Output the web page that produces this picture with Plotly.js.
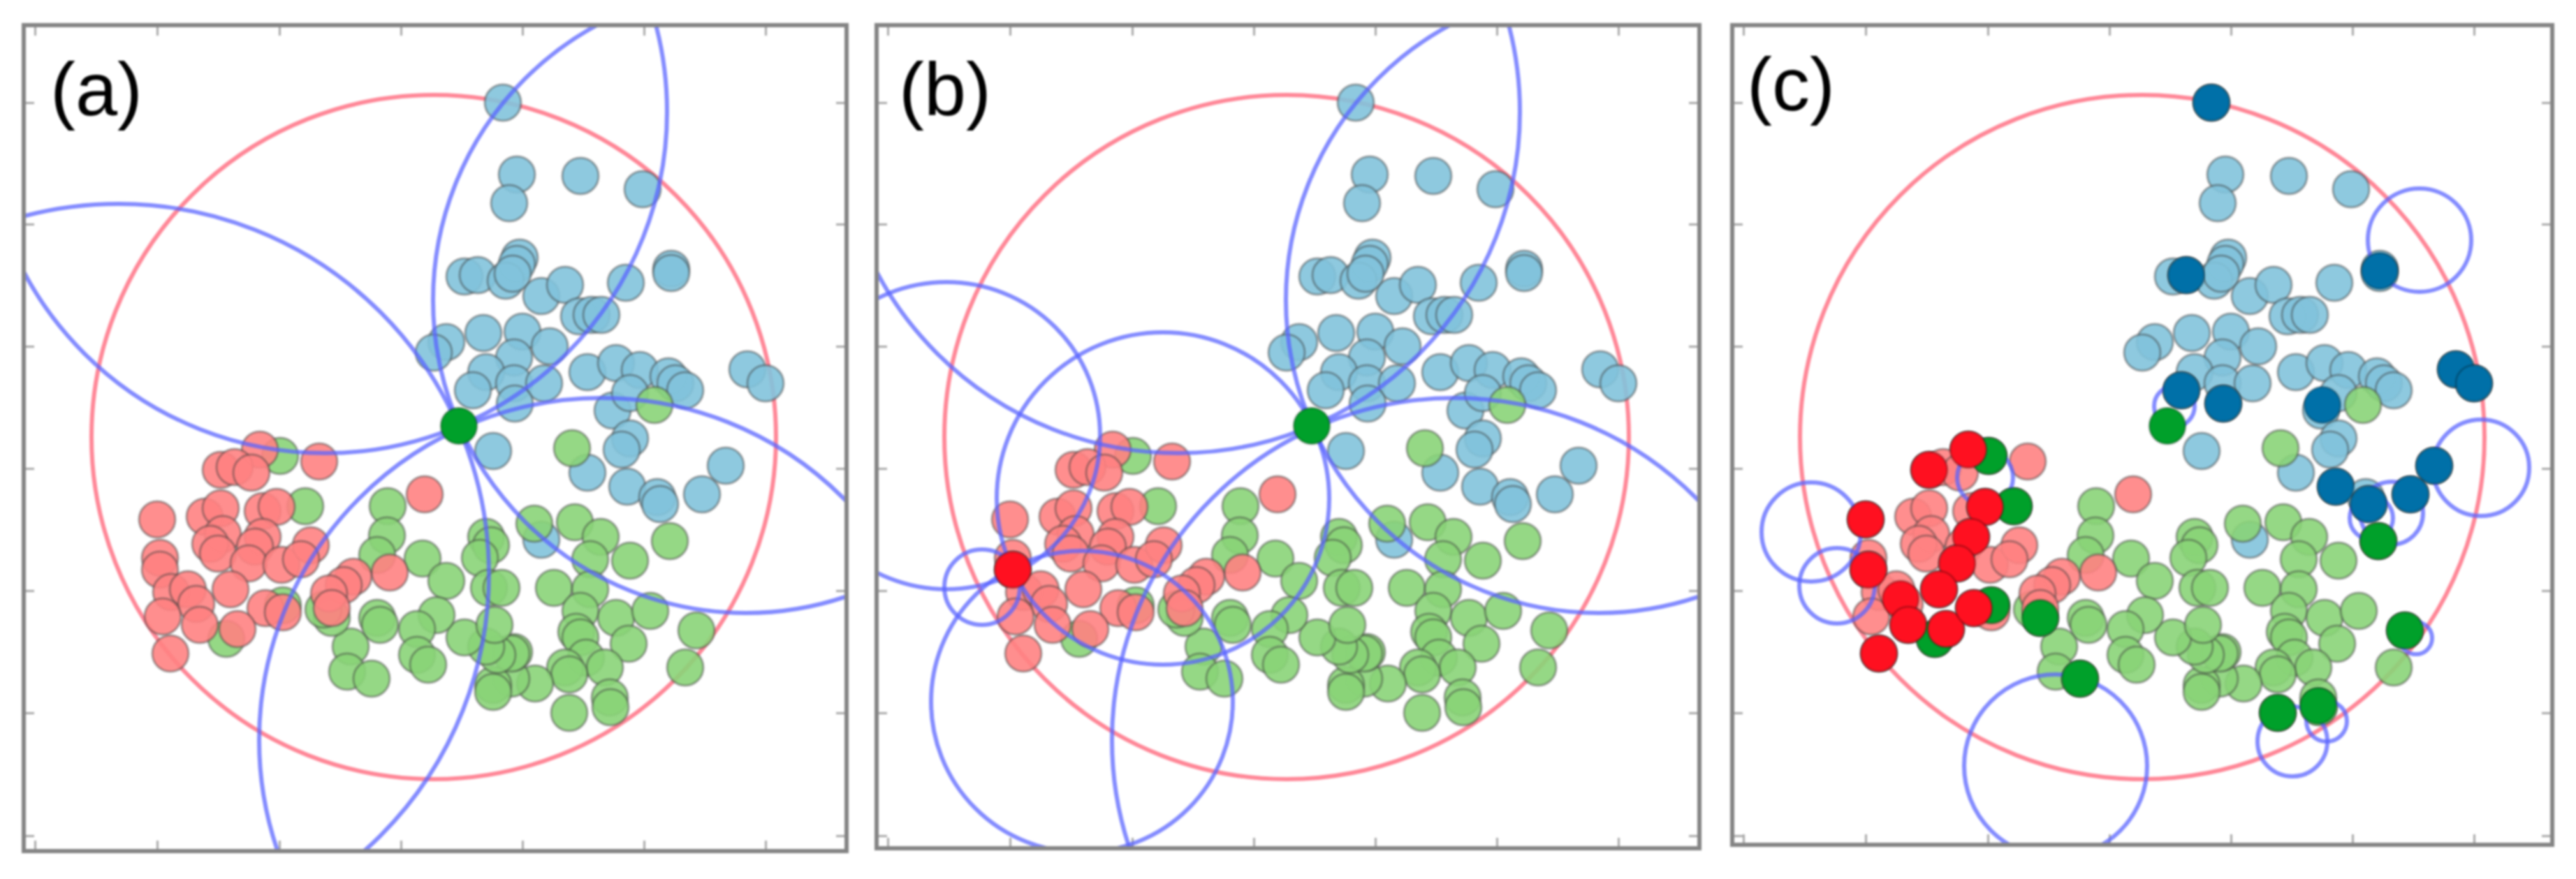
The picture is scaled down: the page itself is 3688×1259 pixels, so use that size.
<!DOCTYPE html>
<html>
<head>
<meta charset="utf-8">
<script src="https://cdn.plot.ly/plotly-3.0.1.min.js"></script>
<style>
  body { margin: 0; background: white; }
  #chart, #dots { position: absolute; left: 0; top: 0; width: 3688px; height: 1259px; filter: blur(1.8px); }
  #dots { pointer-events: none; }
</style>
</head>
<body>
<div id="chart"></div>
<div id="dots"></div>
<script>
// Points
var blueX = [720,740,831,920,729,961,961,744,740,665,684,724,734,775,809,896,829,847,861,639,621,692,748,787,736,696,677,736,779,737,841,882,916,957,967,981,877,902,1070,1096,902,890,706,841,898,941,945,1005,1039,775];
var blueY = [147,250,252,271,291,385,391,369,378,396,394,402,392,424,408,405,453,451,451,490,505,477,475,496,512,533,559,549,549,578,533,520,530,539,549,559,588,563,529,549,628,644,646,677,697,712,722,708,667,773];

var greenX = [937,819,401,437,555,554,540,605,639,696,703,687,700,718,765,823,860,845,902,959,793,845,831,882,931,997,981,825,831,900,839,809,866,815,873,874,815,766,732,706,706,736,732,712,696,665,708,625,597,597,613,540,544,502,497,532,475,463,324,405];
var greenY = [580,642,653,725,725,767,795,800,832,769,781,799,842,842,750,748,769,801,803,775,842,844,875,885,875,903,956,905,913,922,942,956,956,966,999,1013,1021,979,972,981,991,934,936,938,926,913,895,881,901,938,952,885,895,926,962,972,885,873,915,867];

var redX = [372,457,316,336,360,608,225,293,316,376,396,319,301,312,376,365,356,403,445,431,229,229,245,269,281,330,380,405,233,286,340,244,558,506,492,471,475];
var redY = [644,661,673,669,677,708,744,740,728,732,726,765,779,793,769,783,807,809,781,801,799,816,848,844,865,844,871,877,883,895,901,936,820,826,838,850,871];

// Highlighted points of each panel
var queryGreenX = [657];
var queryGreenY = [610];
var queryRedX = [229];
var queryRedY = [816];

var hullBlueX = [720,684,961,677,737,879,1070,1096,1039,898,945,1005];
var hullBlueY = [147,394,388,559,578,580,529,549,667,697,722,708];
var hullGreenX = [657,401,437,475,532,959,997,815,873,324,405];
var hullGreenY = [610,653,725,885,972,775,903,1021,1011,915,867];
var hullRedX = [372,316,225,396,376,229,356,330,275,286,340,380,244];
var hullRedY = [644,673,744,726,769,816,807,844,858,895,901,871,936];

// Enclosing circle and empty circles [x, y, r]
var outerCircle = [621, 626, 490];
var circlesA = [[1068,430,448],[466,160,489],[861,1060,490],[170,822,530]];
var circlesB = [[1068,430,448],[466,160,489],[861,1060,490],[444,714,238],[134,624,220],[185,841,54],[328,1005,216]];
var circlesC = [[1018,344,74],[1106,670,69],[147,762,71],[184,839,54],[497,1097,131],[836,1062,50],[885,1033,29],[1013,914,23],[949,742,31],[978,735,45],[667,582,29],[396,684,40]];

var panelLabels = ["(a)", "(b)", "(c)"];
var labelX = [138, 132, 118];
var labelY = [127, 127, 120];

var xTicks = [50,225,400,574,748,922,1096];
var yTicks = [147,321,496,671,846,1021,1197];

// Frames in page pixels
var W = 3688, H = 1259;
var frameLeft = [37, 1258, 2483];
var frameRight = [1209, 2430, 3651];
var frameTop = [39, 39, 39];
var frameBottom = [1216, 1212, 1207];

var pointLine = { color: "rgba(60,60,60,0.45)", width: 3 };
var darkLine = { color: "rgba(0,0,0,0.25)", width: 3 };

function points(x, y, color, axis, line) {
  return {
    x: x, y: y,
    xaxis: "x" + axis, yaxis: "y" + axis,
    type: "scatter", mode: "markers", hoverinfo: "skip",
    marker: { size: 52, color: color, line: line }
  };
}

function frameLayout(visible) {
  var layout = {
    width: W, height: H,
    margin: { l: 0, r: 0, t: 0, b: 0 },
    showlegend: false,
    paper_bgcolor: "rgba(0,0,0,0)",
    plot_bgcolor: "rgba(0,0,0,0)"
  };
  for (var i = 0; i < 3; i++) {
    var n = i == 0 ? "" : String(i + 1);
    var common = {
      visible: visible, showgrid: false, zeroline: false, showticklabels: false,
      showline: true, linecolor: "#848484", linewidth: 6, mirror: "ticks",
      ticks: "inside", ticklen: 12, tickwidth: 3, tickcolor: "#a8a8a8", tickmode: "array"
    };
    layout["xaxis" + n] = Object.assign({}, common, {
      domain: [frameLeft[i] / W, frameRight[i] / W],
      range: [37, 37 + frameRight[i] - frameLeft[i]],
      tickvals: xTicks,
      anchor: "y" + n
    });
    layout["yaxis" + n] = Object.assign({}, common, {
      domain: [1 - frameBottom[i] / H, 1 - frameTop[i] / H],
      range: [39 + frameBottom[i] - frameTop[i], 39],
      tickvals: yTicks,
      anchor: "x" + n
    });
  }
  return layout;
}

function circleShape(c, axis, color, layer) {
  return {
    type: "circle", xref: "x" + axis, yref: "y" + axis, layer: layer,
    x0: c[0] - c[2], x1: c[0] + c[2], y0: c[1] - c[2], y1: c[1] + c[2],
    line: { color: color, width: 6 }
  };
}

// Base plot: light points, circles over them
var data = [];
var shapes = [];
var annotations = [];
var allCircles = [circlesA, circlesB, circlesC];
["", "2", "3"].forEach(function (axis, i) {
  data.push(points(blueX, blueY, "rgba(130,195,220,0.9)", axis, pointLine));
  data.push(points(greenX, greenY, "rgba(138,212,120,0.9)", axis, pointLine));
  data.push(points(redX, redY, "rgba(255,130,130,0.9)", axis, pointLine));
  shapes.push(circleShape(outerCircle, axis, "rgba(255,105,125,0.8)", "below"));
  allCircles[i].forEach(function (c) {
    shapes.push(circleShape(c, axis, "rgba(90,100,255,0.75)", "above"));
  });
  annotations.push({
    text: panelLabels[i], x: labelX[i], y: labelY[i],
    xref: "x" + axis, yref: "y" + axis, xanchor: "center", yanchor: "middle",
    showarrow: false, font: { family: "Liberation Sans", size: 108, color: "black" }
  });
});

var layout = frameLayout(true);
layout.shapes = shapes;
layout.annotations = annotations;
Plotly.newPlot("chart", data, layout, { displayModeBar: false, staticPlot: true });

// Top plot: the dark points have to sit above the circles
var darkGreen = "#00a02a", darkRed = "#ff1020", darkBlue = "#0070a8";
var dots = [
  points(queryGreenX, queryGreenY, darkGreen, "", darkLine),
  points(queryGreenX, queryGreenY, darkGreen, "2", darkLine),
  points(queryRedX, queryRedY, darkRed, "2", darkLine),
  points(hullGreenX, hullGreenY, darkGreen, "3", darkLine),
  points(hullBlueX, hullBlueY, darkBlue, "3", darkLine),
  points(hullRedX, hullRedY, darkRed, "3", darkLine)
];
Plotly.newPlot("dots", dots, frameLayout(false), { displayModeBar: false, staticPlot: true });
</script>
</body>
</html>
